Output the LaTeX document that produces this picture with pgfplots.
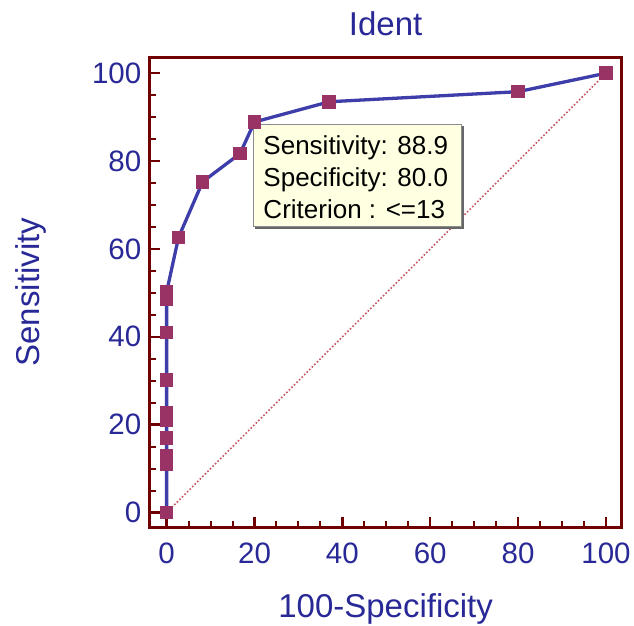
\documentclass[border=0pt]{standalone}
\usepackage{fontspec}
\setmainfont{Liberation Sans}
\usepackage{pgfplots}
\pgfplotsset{compat=1.18}
\definecolor{framecol}{RGB}{112,0,0}
\definecolor{navytxt}{RGB}{40,40,150}
\definecolor{curvecol}{RGB}{62,62,170}
\definecolor{markcol}{RGB}{153,51,102}
\definecolor{diagcol}{RGB}{195,85,95}
\definecolor{tipfill}{RGB}{255,255,225}
\begin{document}
\begin{tikzpicture}
\useasboundingbox (0,0) rectangle (634pt,625pt);
\begin{axis}[
  at={(149.5pt,98pt)}, anchor=south west,
  scale only axis, width=472.3pt, height=469.6pt,
  xmin=-3.9, xmax=103.6, ymin=-3.3, ymax=103.6,
  xtick={0,20,...,100}, ytick={0,20,...,100},
  minor tick num=3,
  tick align=inside, tick pos=left,
  major tick length=10pt, minor tick length=6pt,
  major tick style={line width=2.5pt, draw=framecol},
  minor tick style={line width=2pt, draw=framecol},
  axis line style={line width=3pt, draw=framecol},
  /pgf/number format/assume math mode=true,
  ticklabel style={font=\fontsize{29.5}{30}\selectfont, text=navytxt},
  xticklabel style={yshift=-12pt},
  yticklabel style={xshift=-4.7pt},
  title={Ident},
  title style={at={(axis description cs:0.5,1.0335)}, anchor=base, font=\fontsize{33}{36}\selectfont, text=navytxt},
  xlabel={100-Specificity},
  xlabel style={at={(axis description cs:0.5,-0.1917)}, anchor=base, font=\fontsize{33}{36}\selectfont, text=navytxt},
  ylabel={Sensitivity},
  ylabel style={at={(axis description cs:-0.2338,0.5)}, anchor=base, rotate=0, font=\fontsize{33}{36}\selectfont, text=navytxt},
  clip=false,
]
\addplot[diagcol, line width=1.6pt, dotted] coordinates {(0,0) (100,100)};
\addplot[curvecol, line width=3.3pt, mark=square*, mark size=6.3pt,
  mark options={solid, fill=markcol, draw=markcol, line width=0pt}] coordinates {
  (0,0) (0,10.9) (0,12.8) (0,16.9) (0,21.0) (0,22.6) (0,30.1) (0,41.0) (0,48.5) (0,50.2)
  (2.7,62.6) (8.2,75.3) (16.7,81.7) (20,88.9) (37,93.5) (80,95.8) (100,100)};
\fill[gray!80!black] (axis cs:20.15,87.95) rectangle (axis cs:67.6,64.55);
\draw[fill=tipfill, draw=gray!90, line width=1pt] (axis cs:19.7,88.4) rectangle (axis cs:67.15,65.0);
\node[anchor=base west, inner sep=0pt, font=\fontsize{26}{32}\selectfont] at (axis cs:22.0,81.56) {Sensitivity: 88.9};
\node[anchor=base west, inner sep=0pt, font=\fontsize{26}{32}\selectfont] at (axis cs:22.0,74.27) {Specificity: 80.0};
\node[anchor=base west, inner sep=0pt, font=\fontsize{26}{32}\selectfont] at (axis cs:22.0,66.99) {Criterion : <=13};
\end{axis}
\end{tikzpicture}
\end{document}
